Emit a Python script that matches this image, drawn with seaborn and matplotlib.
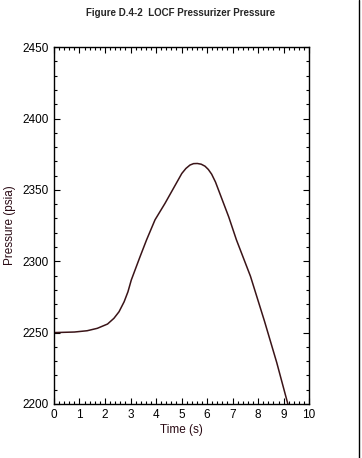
import pandas as pd
import numpy as np
import matplotlib
matplotlib.use('Agg')
import matplotlib.pyplot as plt
from matplotlib.lines import Line2D
import seaborn as sns

# values
time_s = [0.0, 0.8, 1.3, 1.7, 2.1, 2.35, 2.55, 2.75, 2.9, 3.03, 3.37, 3.63, 3.96,
          4.35, 4.68, 5.01, 5.17, 5.33, 5.47, 5.62, 5.77, 5.92, 6.05, 6.18, 6.33,
          6.5, 6.85, 7.15, 7.7, 8.25, 8.73, 9.15, 9.3]
pressure = [2250.0, 2250.4, 2251.3, 2253.0, 2256.0, 2260.0, 2264.6, 2271.6, 2278.6,
            2286.8, 2303.0, 2315.0, 2329.0, 2340.5, 2351.0, 2361.5, 2365.0, 2367.4,
            2368.4, 2368.5, 2368.0, 2366.6, 2364.3, 2361.0, 2355.5, 2347.5, 2331.0,
            2315.0, 2289.5, 2258.0, 2229.0, 2201.0, 2191.0]
x_ticks = list(range(0, 11))
y_ticks = [2200, 2250, 2300, 2350, 2400, 2450]

df = pd.DataFrame({'Time (s)': time_s, 'Pressure (psia)': pressure})

sns.set_style('ticks')
plt.rcParams['font.family'] = ['Liberation Sans', 'DejaVu Sans']

fig = plt.figure(figsize=(3.62, 4.58), dpi=100)
ax = fig.add_axes([0.149, 0.118, 0.705, 0.779])

sns.lineplot(data=df, x='Time (s)', y='Pressure (psia)', ax=ax,
             color='#3a1418', linewidth=1.1, sort=False)

ax.set_xlim(0, 10)
ax.set_ylim(2200, 2450)
ax.set_xticks(x_ticks)
ax.set_yticks(y_ticks)
ax.set_xticks(np.arange(0, 10.01, 0.2), minor=True)
ax.set_yticks(np.arange(2200, 2451, 10), minor=True)
ax.tick_params(which='both', direction='in', top=True, right=True, labelsize=8.5,
               colors='black', width=0.8)
ax.tick_params(which='major', length=4)
ax.tick_params(which='minor', length=2)
for s in ax.spines.values():
    s.set_visible(True)
    s.set_linewidth(1.0)
    s.set_color('black')

ax.set_xlabel('Time (s)', fontsize=8.5, color='#2a0a14', labelpad=2)
ax.set_ylabel('Pressure (psia)', fontsize=8.5, color='#2a0a14', labelpad=5)
fig.text(0.5, 0.982, 'Figure D.4-2  LOCF Pressurizer Pressure', ha='center', va='top',
         fontsize=7, fontweight='bold')

# page border on the right edge
fig.add_artist(Line2D([0.992, 0.992], [0.0, 1.0], color='black', linewidth=1.0,
                      transform=fig.transFigure))

fig.savefig('out.png', dpi=100)
